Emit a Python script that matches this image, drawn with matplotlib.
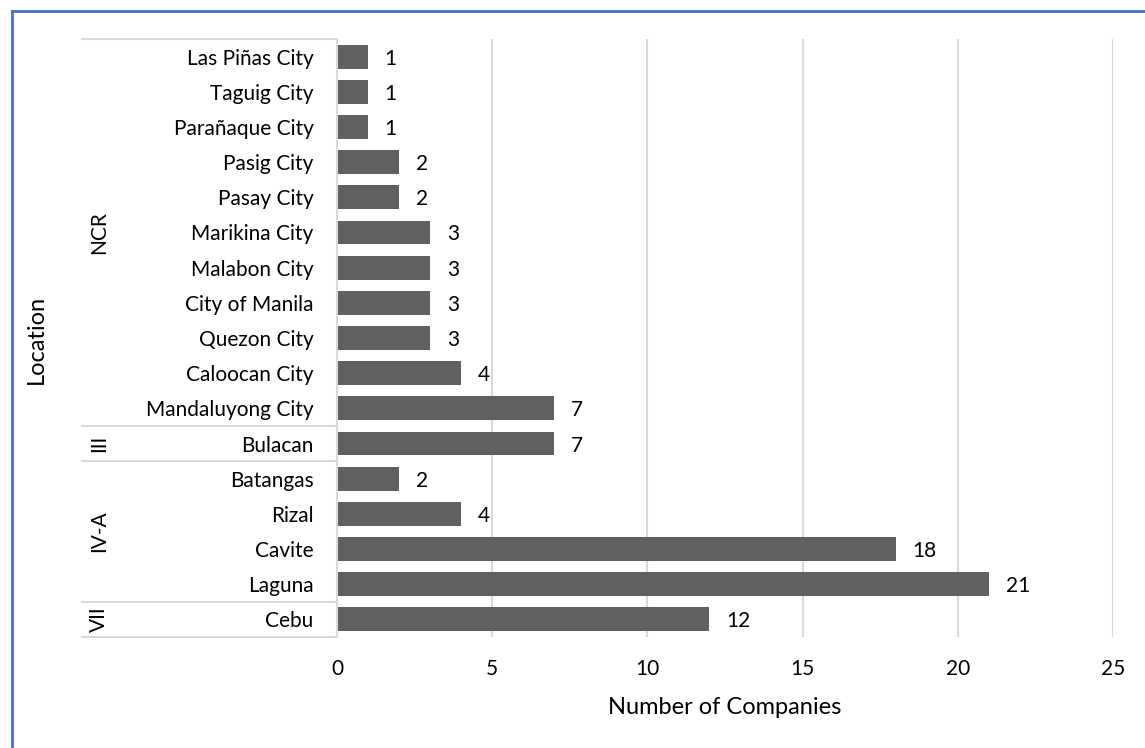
import matplotlib
matplotlib.use("Agg")
import matplotlib.pyplot as plt
from matplotlib.lines import Line2D

plt.rcParams["font.family"] = ["Lato", "DejaVu Sans"]

# companies per location, listed top to bottom
cities = ["Las Piñas City", "Taguig City", "Parañaque City", "Pasig City",
          "Pasay City", "Marikina City", "Malabon City", "City of Manila",
          "Quezon City", "Caloocan City", "Mandaluyong City",
          "Bulacan",
          "Batangas", "Rizal", "Cavite", "Laguna",
          "Cebu"]
counts = [1, 1, 1, 2, 2, 3, 3, 3, 3, 4, 7, 7, 2, 4, 18, 21, 12]

regions = ["NCR", "III", "IV-A", "VII"]
region_sizes = [11, 1, 4, 1]

xticks = [0, 5, 10, 15, 20, 25]

W, H = 1145, 748
fig = plt.figure(figsize=(W / 100, H / 100), dpi=100)
ax = fig.add_axes([337 / W, 1 - 637 / H, 776 / W, 598 / H])

bar_color = "#606060"
grid_color = "#D9D9D9"
text_color = "#000000"
fs = 15
title_fs = 17

pos = list(range(len(cities)))
ax.barh(pos, counts, height=0.68, color=bar_color, zorder=2)
ax.set_ylim(len(cities) - 0.5, -0.5)
ax.set_xlim(0, 25)

for y, v in zip(pos, counts):
    ax.annotate(str(v), (v, y), xytext=(12, 0), textcoords="offset points",
                va="center_baseline", ha="left", fontsize=fs, color=text_color)

ax.set_xticks(xticks)
ax.set_xticklabels([str(t) for t in xticks], fontsize=fs, color=text_color)
ax.tick_params(axis="x", length=0, pad=16)
ax.xaxis.grid(True, color=grid_color, lw=1.5, zorder=0)
ax.set_axisbelow(True)

ax.set_yticks(pos)
ax.set_yticklabels(cities, fontsize=fs, color=text_color, va="center_baseline")
ax.tick_params(axis="y", length=0, pad=17)

for s in ["top", "right", "bottom"]:
    ax.spines[s].set_visible(False)
ax.spines["left"].set_color(grid_color)
ax.spines["left"].set_linewidth(1.5)

ax.set_xlabel("Number of Companies", fontsize=title_fs, color=text_color, labelpad=13)

# region boxes on the category axis
box_left = (82 - 337) / 776
trans = ax.get_yaxis_transform()
edges = [-0.5]
for n in region_sizes:
    edges.append(edges[-1] + n)
for e in edges:
    ax.add_line(Line2D([box_left, 0], [e, e], transform=trans, color=grid_color,
                       lw=1.5, clip_on=False))
for name, lo, hi in zip(regions, edges[:-1], edges[1:]):
    ax.text((99 - 337) / 776, (lo + hi) / 2, name, transform=trans, rotation=90,
            ha="center", va="center", fontsize=fs, color=text_color)

fig.text(36 / W, 1 - 339 / H, "Location", rotation=90, ha="center", va="center",
         fontsize=title_fs, color=text_color)

# chart frame
fig.add_artist(Line2D([12 / W, 1], [1 - 11 / H, 1 - 11 / H], color="#4472C4", lw=2))
fig.add_artist(Line2D([12 / W, 12 / W], [0, 1 - 11 / H], color="#4472C4", lw=2))

fig.savefig("out.png", dpi=100, facecolor="white")
